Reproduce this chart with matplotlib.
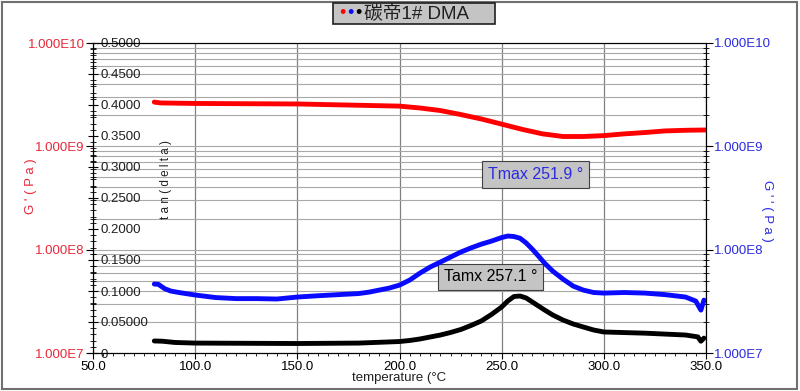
#!/usr/bin/env python3
# DMA chart: G', G'' (log) and tan(delta) vs temperature

import numpy as np
import matplotlib
matplotlib.use('Agg')
import matplotlib.pyplot as plt
from matplotlib.ticker import MultipleLocator, NullFormatter
from matplotlib.patches import Rectangle

plt.rcParams['font.family'] = ['Liberation Sans', 'Noto Sans CJK SC', 'DejaVu Sans']

# =============================================================
# Data
# G' (storage modulus, Pa) -- red, left log axis
t_g1 = [80, 83, 100, 150, 200, 210, 220, 230, 240, 250, 260, 270, 280, 290, 300,
        310, 320, 330, 340, 350]
g1 = [2.68e9, 2.63e9, 2.60e9, 2.57e9, 2.45e9, 2.35e9, 2.22e9, 2.03e9, 1.84e9, 1.64e9,
      1.46e9, 1.32e9, 1.245e9, 1.245e9, 1.27e9, 1.32e9, 1.36e9, 1.41e9, 1.43e9, 1.44e9]

# G'' (loss modulus, Pa) -- blue, right log axis
t_g2 = [80, 82, 85, 88, 92, 100, 110, 120, 130, 140, 150, 160, 170, 180, 185, 190, 195,
        200, 205, 210, 215, 220, 225, 230, 235, 240, 245, 250, 253, 256, 259, 262, 265,
        268, 271, 275, 280, 285, 290, 295, 300, 310, 320, 330, 340, 345, 347.5, 349]
g2 = [4.65e7, 4.62e7, 4.2e7, 3.98e7, 3.85e7, 3.64e7, 3.44e7, 3.36e7, 3.36e7, 3.33e7,
      3.48e7, 3.58e7, 3.67e7, 3.76e7, 3.88e7, 4.06e7, 4.25e7, 4.54e7, 5.08e7, 5.93e7,
      6.79e7, 7.58e7, 8.48e7, 9.48e7, 1.04e8, 1.13e8, 1.21e8, 1.31e8, 1.355e8, 1.34e8,
      1.29e8, 1.16e8, 1.01e8, 8.67e7, 7.41e7, 6.2e7, 5.19e7, 4.44e7, 4.06e7, 3.85e7,
      3.80e7, 3.85e7, 3.80e7, 3.67e7, 3.48e7, 3.18e7, 2.6e7, 3.25e7]

# tan(delta) -- black, inner left linear axis
t_tan = [80, 84, 90, 100, 150, 180, 200, 205, 210, 215, 220, 225, 230, 235, 240, 245,
         250, 253, 256, 259, 262, 265, 268, 271, 275, 280, 285, 290, 295, 300, 320, 340,
         346, 347.5, 349]
tan_d = [0.0194, 0.019, 0.017, 0.016, 0.0153, 0.016, 0.0185, 0.0202, 0.0226, 0.0258,
         0.029, 0.0331, 0.0379, 0.0444, 0.0516, 0.0621, 0.0742, 0.0839, 0.0911, 0.0919,
         0.0887, 0.0823, 0.0758, 0.0694, 0.0613, 0.0532, 0.0468, 0.0419, 0.0371, 0.0339,
         0.032, 0.029, 0.026, 0.019, 0.024]

x_ticks = [50, 100, 150, 200, 250, 300, 350]
x_labels = ['50.0', '100.0', '150.0', '200.0', '250.0', '300.0', '350.0']
log_ticks = [1e7, 1e8, 1e9, 1e10]
log_labels = ['1.000E7', '1.000E8', '1.000E9', '1.000E10']
tan_ticks = [0, 0.05, 0.1, 0.15, 0.2, 0.25, 0.3, 0.35, 0.4, 0.45, 0.5]
tan_labels = ['0', '0.05000', '0.1000', '0.1500', '0.2000', '0.2500', '0.3000',
              '0.3500', '0.4000', '0.4500', '0.5000']

RED = '#ff0000'
BLUE = '#0a0aff'
RED_TXT = '#e8283a'
BLUE_TXT = '#2a2ae0'

W, H = 800, 391
fig = plt.figure(figsize=(W / 100, H / 100), dpi=100)

def px(x, y):
    # pixel position -> figure fraction
    return x / W, 1 - y / H

# outer frame
fig.add_artist(Rectangle((2 / W, 2 / H), 795 / W, 387 / H, transform=fig.transFigure,
                         fill=False, edgecolor='#707070', lw=1.5))

# =============================================================
# G' axis
ax = fig.add_axes([93 / W, 38 / H, 613 / W, 310 / H])
ax.set_xlim(50, 350)
ax.set_yscale('log')
ax.set_ylim(1e7, 1e10)
ax.set_xticks(x_ticks)
ax.set_xticklabels(x_labels)
ax.xaxis.set_minor_locator(MultipleLocator(5))
ax.tick_params(axis='x', which='major', direction='out', length=4, pad=2, labelsize=9.5)
ax.tick_params(axis='x', which='minor', direction='out', length=2.5)
ax.set_yticks(log_ticks)
ax.set_yticklabels(log_labels)
ax.yaxis.set_minor_formatter(NullFormatter())
ax.tick_params(axis='y', which='major', direction='out', length=5, pad=1,
               labelsize=9.5, labelcolor=RED_TXT)
ax.tick_params(axis='y', which='minor', direction='inout', length=4)
ax.grid(which='both', axis='y', color='#a8a8a8', lw=0.8)
ax.grid(which='major', axis='x', color='#808080', lw=0.9)
ax.set_axisbelow(True)
ax.plot(t_g1, g1, color=RED, lw=3.5, solid_capstyle='round')

# tan(delta) axis, labels drawn inside the plot
ax_t = ax.twinx()
ax_t.set_ylim(0, 0.5)
ax_t.yaxis.tick_left()
ax_t.set_yticks(tan_ticks)
ax_t.set_yticklabels(tan_labels)
ax_t.yaxis.set_minor_locator(MultipleLocator(0.01))
ax_t.tick_params(axis='y', which='major', direction='inout', length=7, pad=-9,
                 labelsize=9.5, labelcolor='#202020')
ax_t.tick_params(axis='y', which='minor', direction='inout', length=4)
for lbl in ax_t.get_yticklabels():
    lbl.set_horizontalalignment('left')
for s in ax_t.spines.values():
    s.set_visible(False)
ax_t.plot(t_tan, tan_d, color='black', lw=3.5, solid_capstyle='round')

# G'' axis
ax_r = ax.twinx()
ax_r.set_yscale('log')
ax_r.set_ylim(1e7, 1e10)
ax_r.set_yticks(log_ticks)
ax_r.set_yticklabels(log_labels)
ax_r.yaxis.set_minor_formatter(NullFormatter())
ax_r.tick_params(axis='y', which='major', direction='out', length=5, pad=1,
                 labelsize=9.5, labelcolor=BLUE_TXT)
ax_r.tick_params(axis='y', which='minor', direction='inout', length=4)
ax_r.plot(t_g2, g2, color=BLUE, lw=3.5, solid_capstyle='round')

# annotations
box = dict(boxstyle='square,pad=0.35', facecolor='#c4c4c4', edgecolor='#404040', lw=0.8)
ax_t.text(266.6, 0.288, 'Tmax 251.9 °', color=BLUE_TXT, fontsize=11.5,
          ha='center', va='center', bbox=box)
ax_t.text(244.5, 0.1226, 'Tamx 257.1 °', color='black', fontsize=11.5,
          ha='center', va='center', bbox=box)

# axis titles
fig.text(*px(31, 186), "G ' ( P a )", color=RED_TXT, fontsize=9.5, rotation=90,
         ha='center', va='center')
fig.text(*px(166, 180), 't a n ( d e l t a )', color='#202020', fontsize=8.5,
         rotation=90, ha='center', va='center')
fig.text(*px(767, 211), "G ' ' ( P a )", color=BLUE_TXT, fontsize=9.5, rotation=-90,
         ha='center', va='center')
fig.text(*px(399, 378), 'temperature (°C', color='#202020', fontsize=9.5,
         ha='center', va='center')

# title box with coloured dots
fig.add_artist(Rectangle(px(333, 24), 162 / W, 21 / H, transform=fig.transFigure,
                         facecolor='#c4c4c4', edgecolor='#202020', lw=1.2))
for xd, c in zip([342, 350, 358], [RED, BLUE, 'black']):
    fig.text(*px(xd, 13.5), '•', color=c, fontsize=13, ha='center', va='center')
fig.text(*px(364, 13.5), '碳帝1# DMA', color='#202020', fontsize=13.5,
         ha='left', va='center')

fig.savefig('out.png', dpi=100)
